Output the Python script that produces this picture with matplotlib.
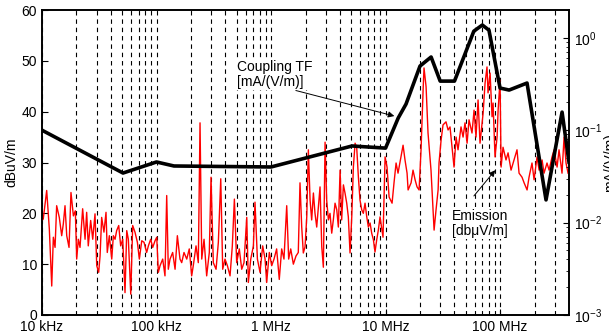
import numpy as np
import matplotlib
matplotlib.use("Agg")
import matplotlib.pyplot as plt
from matplotlib.ticker import FixedLocator, NullFormatter, LogLocator

plt.rcParams['font.family'] = ['Liberation Sans', 'DejaVu Sans']
plt.rcParams['font.size'] = 10
plt.rcParams['mathtext.default'] = 'regular'

# emission spectrum, log10(f/Hz) and level in dBuV/m
emis_logf = [
    4.000, 4.011, 4.041, 4.064, 4.085, 4.099, 4.114, 4.128, 4.151, 4.172,
    4.186, 4.201, 4.216, 4.236, 4.253, 4.274, 4.291, 4.303, 4.317, 4.332,
    4.355, 4.376, 4.390, 4.404, 4.425, 4.443, 4.463, 4.478, 4.495, 4.507,
    4.521, 4.541, 4.559, 4.570, 4.588, 4.609, 4.623, 4.638, 4.652, 4.670,
    4.687, 4.705, 4.725, 4.740, 4.754, 4.775, 4.792, 4.812, 4.833, 4.850,
    4.871, 4.891, 4.914, 4.929, 4.949, 4.967, 4.987, 5.002, 5.016, 5.031,
    5.054, 5.074, 5.089, 5.103, 5.118, 5.141, 5.162, 5.182, 5.205, 5.220,
    5.240, 5.264, 5.286, 5.307, 5.321, 5.345, 5.365, 5.380, 5.395, 5.415,
    5.438, 5.461, 5.476, 5.496, 5.520, 5.540, 5.561, 5.578, 5.598, 5.619,
    5.642, 5.662, 5.680, 5.700, 5.723, 5.744, 5.764, 5.788, 5.802, 5.823,
    5.846, 5.860, 5.881, 5.904, 5.927, 5.948, 5.962, 5.985, 6.006, 6.026,
    6.049, 6.072, 6.093, 6.113, 6.137, 6.154, 6.172, 6.195, 6.218, 6.238,
    6.253, 6.268, 6.282, 6.297, 6.312, 6.326, 6.341, 6.355, 6.370, 6.384,
    6.399, 6.413, 6.428, 6.443, 6.457, 6.472, 6.486, 6.501, 6.515, 6.530,
    6.544, 6.559, 6.574, 6.588, 6.603, 6.617, 6.632, 6.646, 6.661, 6.675,
    6.690, 6.705, 6.719, 6.734, 6.748, 6.763, 6.777, 6.792, 6.806, 6.821,
    6.836, 6.850, 6.865, 6.879, 6.894, 6.908, 6.923, 6.937, 6.952, 6.978,
    6.996, 7.013, 7.031, 7.057, 7.074, 7.092, 7.109, 7.135, 7.153, 7.170,
    7.188, 7.197, 7.223, 7.240, 7.258, 7.275, 7.293, 7.310, 7.328, 7.336,
    7.354, 7.371, 7.397, 7.415, 7.424, 7.441, 7.459, 7.467, 7.485, 7.502,
    7.528, 7.546, 7.563, 7.581, 7.598, 7.616, 7.633, 7.659, 7.677, 7.694,
    7.712, 7.729, 7.755, 7.773, 7.790, 7.808, 7.825, 7.852, 7.869, 7.886,
    7.895, 7.913, 7.930, 7.939, 7.956, 7.974, 7.983, 8.000, 8.009, 8.026,
    8.052, 8.070, 8.096, 8.114, 8.148, 8.166, 8.192, 8.210, 8.236, 8.253,
    8.279, 8.297, 8.323, 8.341, 8.367, 8.384, 8.410, 8.428, 8.454, 8.472,
    8.498, 8.515, 8.541, 8.559, 8.576, 8.594,
]
emis_dbuv = [
    18.6, 18.9, 24.5, 16.9, 5.7, 15.3, 13.3, 21.5, 19.2, 15.6,
    17.9, 21.5, 15.6, 13.3, 24.1, 19.5, 20.5, 11.0, 14.9, 13.3,
    20.9, 14.9, 20.2, 13.6, 18.6, 14.9, 19.9, 9.7, 8.4, 11.6,
    19.2, 16.3, 20.2, 12.3, 15.6, 11.0, 15.6, 14.9, 16.6, 17.6,
    13.6, 14.9, 4.4, 16.6, 14.9, 4.1, 17.6, 16.3, 14.3, 11.0,
    14.6, 14.3, 12.3, 13.6, 14.9, 13.3, 14.6, 15.3, 8.4, 9.7,
    11.0, 7.7, 23.5, 9.0, 11.0, 12.3, 9.0, 15.6, 11.0, 10.3,
    12.3, 11.0, 13.0, 7.7, 9.7, 13.6, 10.3, 37.8, 11.0, 14.9,
    7.7, 12.3, 27.1, 10.3, 9.0, 14.3, 26.8, 9.0, 11.0, 9.7,
    7.7, 13.6, 22.8, 10.3, 13.0, 9.0, 10.3, 19.2, 6.4, 11.0,
    13.6, 22.2, 11.0, 8.4, 13.6, 11.0, 6.4, 12.3, 9.7, 11.0,
    13.0, 7.0, 13.0, 11.0, 21.5, 11.0, 13.0, 10.0, 11.6, 12.3,
    26.0, 17.3, 12.2, 13.4, 19.3, 32.5, 22.6, 18.7, 24.0, 20.0,
    17.3, 21.2, 25.2, 13.4, 9.4, 34.0, 22.6, 18.7, 20.0, 16.1,
    18.7, 22.0, 20.7, 17.3, 28.5, 18.7, 25.6, 24.0, 22.0, 19.3,
    12.2, 19.3, 29.1, 33.8, 33.0, 27.1, 22.6, 20.7, 20.0, 22.0,
    19.3, 17.3, 18.1, 16.1, 14.8, 12.4, 14.8, 16.7, 19.3, 15.3,
    31.1, 29.1, 23.2, 22.0, 26.0, 29.9, 27.9, 31.1, 33.4, 30.5,
    27.9, 24.6, 26.0, 28.5, 26.6, 25.2, 24.6, 32.5, 44.3, 48.6,
    44.9, 35.8, 28.5, 20.7, 16.7, 20.7, 24.6, 29.9, 34.4, 37.4,
    38.0, 36.4, 37.0, 33.0, 29.1, 35.0, 32.5, 37.0, 35.0, 37.8,
    33.8, 38.4, 35.8, 40.3, 35.0, 42.3, 33.8, 39.7, 45.6, 48.8,
    43.7, 47.6, 39.0, 41.7, 31.1, 35.0, 40.3, 46.2, 29.1, 33.0,
    30.5, 31.9, 28.5, 29.9, 32.5, 27.9, 27.1, 26.0, 24.6, 27.1,
    29.9, 26.6, 31.1, 28.5, 30.5, 27.9, 29.9, 28.5, 31.1, 32.5,
    29.1, 32.5, 27.9, 35.0, 29.9, 27.9,
]

# coupling transfer function, mA/(V/m)
tf_freq = [1e4, 5.1e4, 1.0e5, 1.42e5, 1.0e6, 5.1e6, 1.0e7, 1.29e7, 1.51e7,
           2.0e7, 2.5e7, 3.0e7, 4.0e7, 5.9e7, 7.0e7, 8.0e7, 1.0e8, 1.2e8,
           1.72e8, 2.52e8, 3.48e8, 4.0e8]
tf_val = [0.100, 0.0344, 0.0453, 0.041, 0.040, 0.0675, 0.064, 0.1355, 0.192,
          0.495, 0.62, 0.34, 0.34, 1.18, 1.375, 1.21, 0.286, 0.272,
          0.324, 0.0176, 0.157, 0.045]

xtick_pos = [1e4, 1e5, 1e6, 1e7, 1e8]
xtick_lbl = ['10 kHz', '100 kHz', '1 MHz', '10 MHz', '100 MHz']

fig = plt.figure(figsize=(6.09, 3.33), dpi=100)
ax = fig.add_axes([42 / 609, 18 / 333, 527 / 609, 305 / 333])
ax2 = ax.twinx()

emis_freq = 10 ** np.array(emis_logf)
ax.plot(emis_freq, emis_dbuv, color='red', lw=1.0, zorder=3)
ax.set_axisbelow(True)
ax.set_xscale('log')
ax.set_xlim(1e4, 4e8)
ax.set_ylim(0, 60)
ax.set_yticks(range(0, 61, 10))
ax.xaxis.set_major_locator(FixedLocator(xtick_pos))
ax.set_xticklabels(xtick_lbl)
ax.xaxis.set_minor_locator(LogLocator(base=10, subs=np.arange(2, 10), numticks=20))
ax.xaxis.set_minor_formatter(NullFormatter())
ax.grid(True, which='both', axis='x', color='black', lw=0.8,
        linestyle=(0, (4, 3.5)))
ax.tick_params(which='both', direction='in', top=False)
ax.tick_params(which='major', length=4)
ax.tick_params(axis='x', which='minor', length=0)
ax.tick_params(axis='x', pad=3.5)
ax.set_ylabel('dBuV/m', labelpad=2)

ax2.plot(tf_freq, tf_val, color='black', lw=2.6, zorder=4)
ax2.set_yscale('log')
ax2.set_ylim(1e-3, 2)
ax2.set_yticks([1e-3, 1e-2, 1e-1, 1e0])
ax2.set_yticklabels([r'$10^{-3}$', r'$10^{-2}$', r'$10^{-1}$', r'$10^{0}$'])
ax2.tick_params(which='both', direction='in')
ax2.tick_params(which='major', length=4)
ax2.tick_params(which='minor', length=2)
ax2.set_ylabel('mA/(V/m)', labelpad=1)

for a in (ax, ax2):
    for s in a.spines.values():
        s.set_linewidth(1.2)

# labels with arrows, white box hides the grid behind the text
box = dict(facecolor='white', edgecolor='none', pad=1.0)
ax.text(5.05e5, 50.2, 'Coupling TF\n[mA/(V/m)]', ha='left', va='top',
        linespacing=1.1, bbox=box, zorder=2)
ax.annotate('', xy=(1.26e7, 39.0), xytext=(1.56e6, 44.3),
            arrowprops=dict(arrowstyle='-|>', color='black', lw=0.7,
                            mutation_scale=9))
ax.text(3.8e7, 20.9, 'Emission\n[db\u03bcV/m]', ha='left', va='top',
        linespacing=1.1, bbox=box, zorder=2)
ax.annotate('', xy=(9.4e7, 28.9), xytext=(5.7e7, 23.0),
            arrowprops=dict(arrowstyle='-|>', color='black', lw=0.7,
                            mutation_scale=9))

fig.savefig('out.png', dpi=100)
